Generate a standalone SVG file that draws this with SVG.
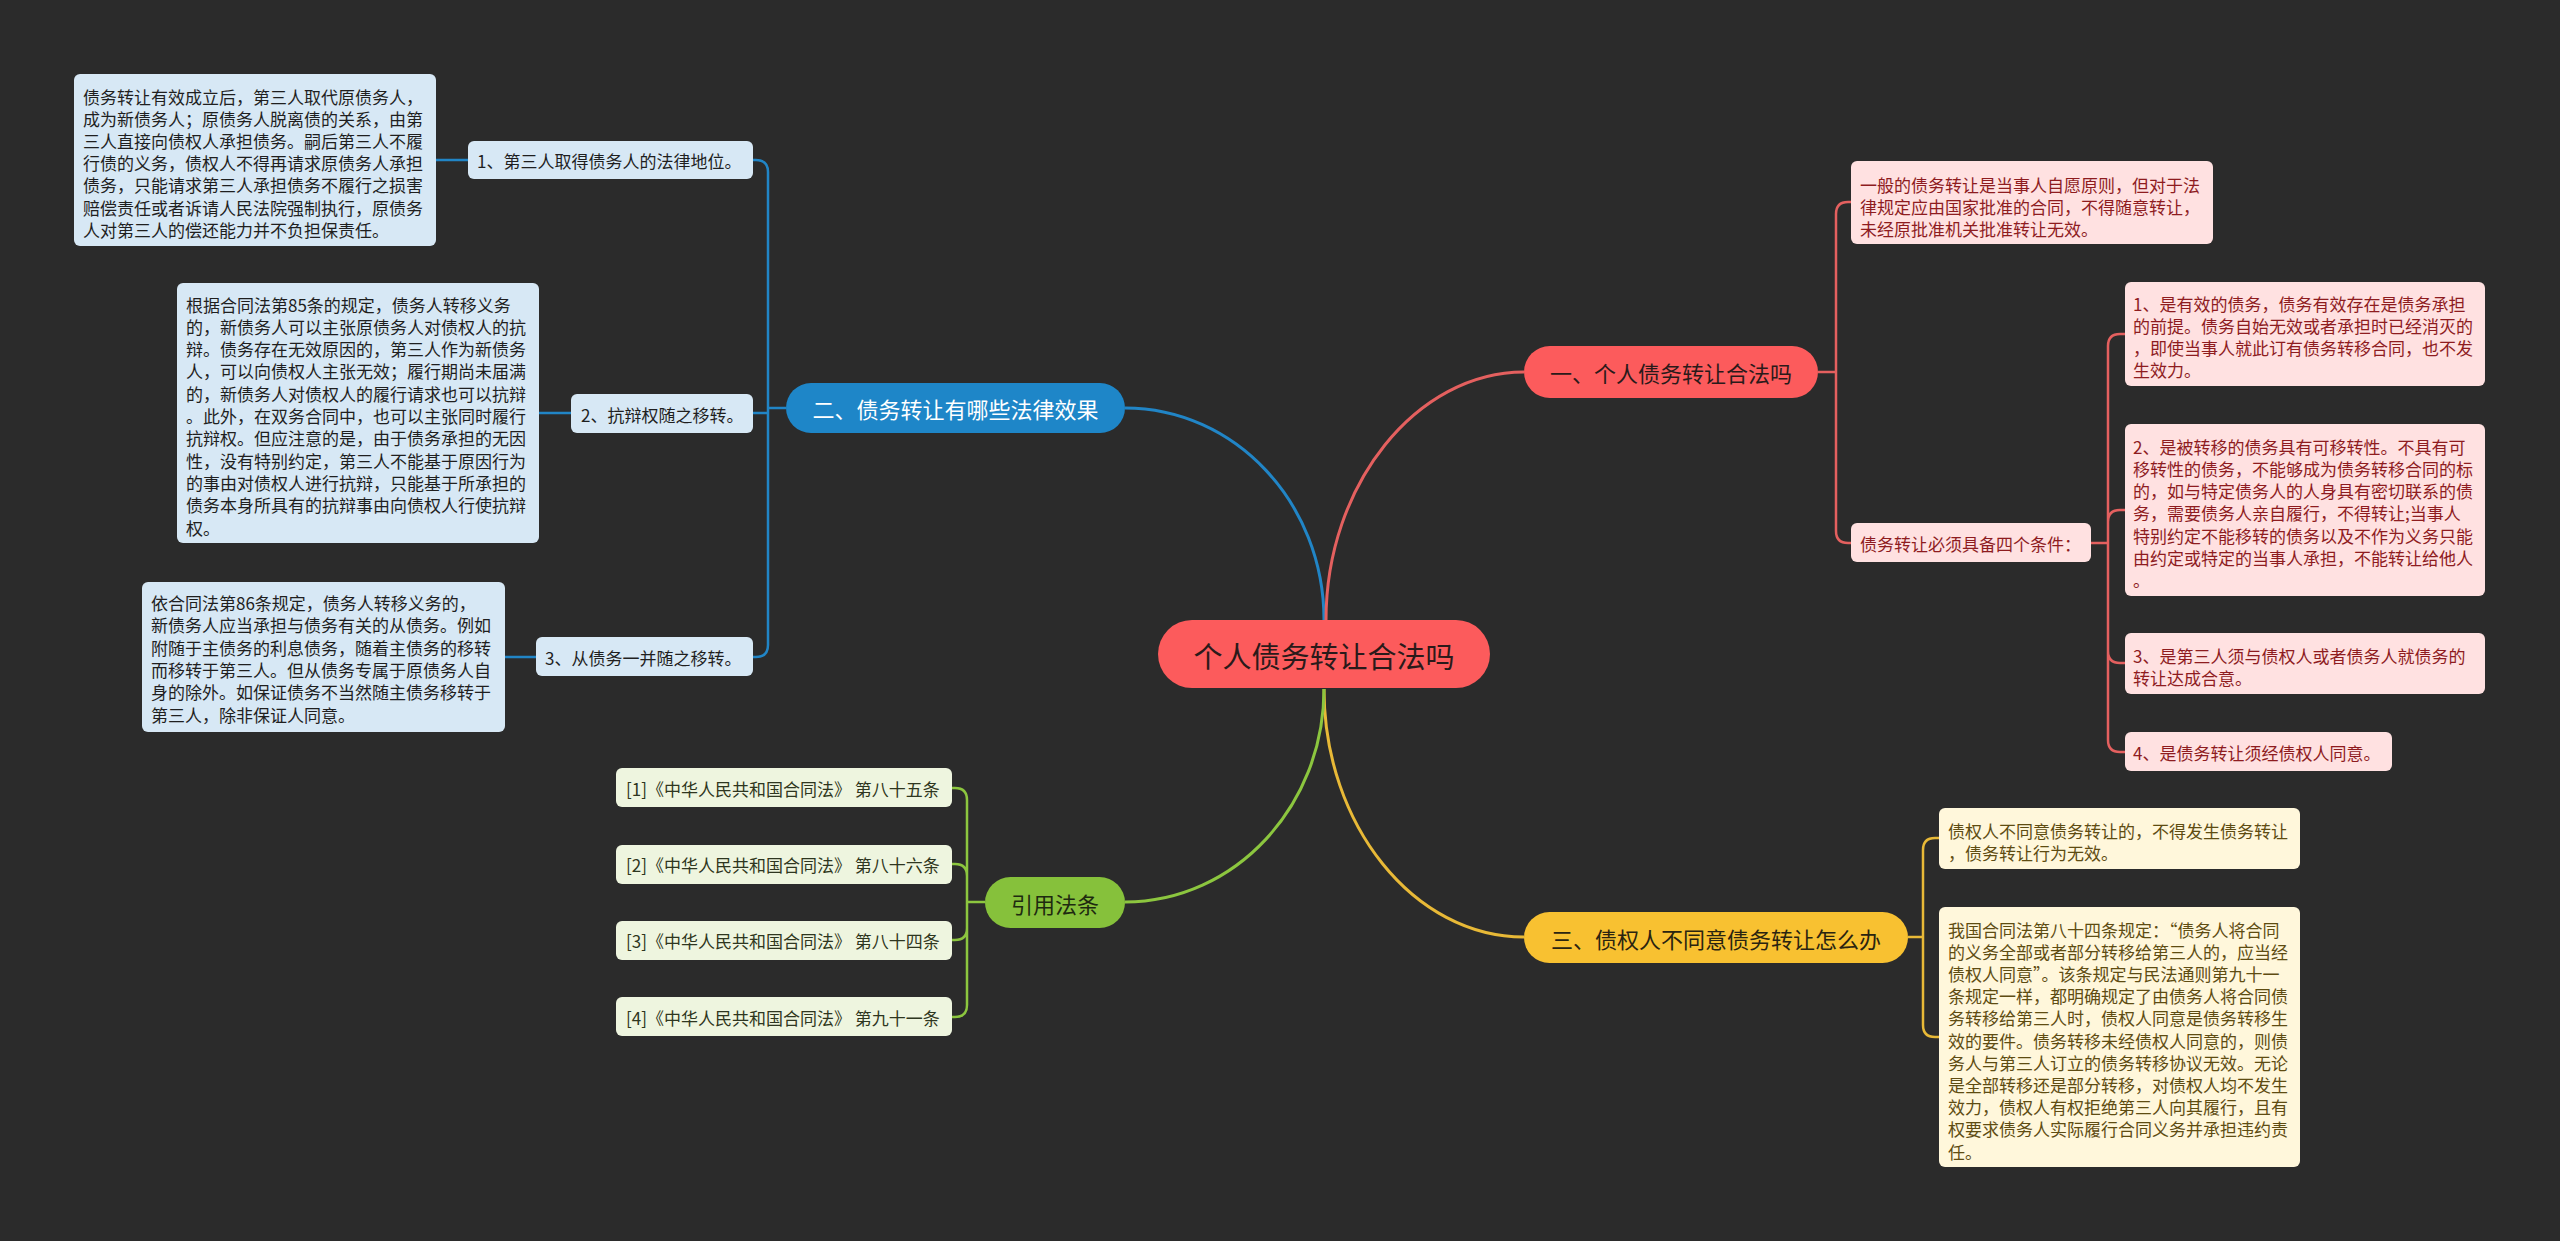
<svg xmlns="http://www.w3.org/2000/svg" width="2560" height="1241" viewBox="0 0 2560 1241">
<style>
text{font-family:"Noto Sans CJK SC","Noto Sans",sans-serif;dominant-baseline:central}
.t17{font-size:17px}
.t22{font-size:22px}
.t29{font-size:29px}
.bl{fill:#D7E8F5}
.rd{fill:#FFE1E1}
.yl{fill:#FFF7DB}
.gr{fill:#EEF5DF}
.tk{fill:#1f1f1f}
.tr{fill:#8E1C1F}
.ty{fill:#5E4C12}
.tg{fill:#2E3620}
.cb{fill:none;stroke:#2185C6;stroke-width:2.5}
.cr{fill:none;stroke:#E4605F;stroke-width:2.5}
.cy{fill:none;stroke:#E8B937;stroke-width:2.5}
.cg{fill:none;stroke:#8CC63F;stroke-width:2.5}
.main{stroke-width:3}
</style>
<rect x="0" y="0" width="2560" height="1241" fill="#2B2B2B"/>

<g id="connectors">
  <path class="cb main" d="M1324,620 C1324,503 1235,408 1125,408"/>
  <path class="cr main" d="M1326,620 C1326,484 1417,372 1524,372"/>
  <path class="cy main" d="M1324,689 C1324,825 1414,937 1524,937"/>
  <path class="cg main" d="M1324,689 C1324,806 1235,902 1125,902"/>
  <!-- blue -->
  <path class="cb" d="M786,408 H768 M768,408 V172 Q768,160 756,160 H753 M768,408 V413 H753 M768,408 V645 Q768,657 756,657 H753"/>
  <path class="cb" d="M436,160 H468 M539,413 H571 M505,657 H536"/>
  <!-- red -->
  <path class="cr" d="M1818,372 H1836 M1836,372 V214 Q1836,202 1848,202 H1851 M1836,372 V531 Q1836,543 1848,543 H1851"/>
  <path class="cr" d="M2091,543 H2108 M2108,543 V346 Q2108,334 2120,334 H2125 M2108,543 V522 Q2108,510 2120,510 H2125 M2108,543 V651 Q2108,663 2120,663 H2125 M2108,543 V740 Q2108,752 2120,752 H2125"/>
  <!-- yellow -->
  <path class="cy" d="M1908,937 H1923 M1923,937 V850 Q1923,838 1935,838 H1939 M1923,937 V1025 Q1923,1037 1935,1037 H1939"/>
  <!-- green -->
  <path class="cg" d="M985,902 H967 M967,902 V800 Q967,788 955,788 H952 M967,902 V876 Q967,864 955,864 H952 M967,902 V928 Q967,940 955,940 H952 M967,902 V1005 Q967,1017 955,1017 H952"/>
</g>

<g id="center">
  <rect x="1158" y="620" width="332" height="68" rx="34" fill="#FC5B5C"/>
  <text class="t29" x="1324" y="655" text-anchor="middle" fill="#2a1a1a">个人债务转让合法吗</text>
</g>

<g id="b1">
  <rect x="1524" y="346" width="294" height="52" rx="26" fill="#FC5B5C"/>
  <text class="t22" x="1671" y="372" text-anchor="middle" fill="#2a1a1a">一、个人债务转让合法吗</text>
</g>
<g id="b2">
  <rect x="786" y="383" width="339" height="50" rx="25" fill="#1E86C8"/>
  <text class="t22" x="955.5" y="408" text-anchor="middle" fill="#ffffff">二、债务转让有哪些法律效果</text>
</g>
<g id="b3">
  <rect x="1524" y="912" width="384" height="51" rx="25.5" fill="#F8C131"/>
  <text class="t22" x="1716" y="937.5" text-anchor="middle" fill="#2a2410">三、债权人不同意债务转让怎么办</text>
</g>
<g id="b4">
  <rect x="985" y="877" width="140" height="51" rx="25.5" fill="#86C13B"/>
  <text class="t22" x="1055" y="902.5" text-anchor="middle" fill="#1e2a10">引用法条</text>
</g>

<!-- blue children -->
<g id="n2-1">
  <rect class="bl" x="468" y="141" width="285" height="38" rx="6"/>
  <text class="t17 tk" x="477" y="160">1、第三人取得债务人的法律地位。</text>
</g>
<g id="n2-1-leaf">
  <rect class="bl" x="74" y="74" width="362" height="172" rx="6"/>
  <text class="t17 tk" x="83">
    <tspan x="83" y="95.5">债务转让有效成立后，第三人取代原债务人，</tspan>
    <tspan x="83" y="117.7">成为新债务人；原债务人脱离债的关系，由第</tspan>
    <tspan x="83" y="139.9">三人直接向债权人承担债务。嗣后第三人不履</tspan>
    <tspan x="83" y="162.1">行债的义务，债权人不得再请求原债务人承担</tspan>
    <tspan x="83" y="184.3">债务，只能请求第三人承担债务不履行之损害</tspan>
    <tspan x="83" y="206.5">赔偿责任或者诉请人民法院强制执行，原债务</tspan>
    <tspan x="83" y="228.7">人对第三人的偿还能力并不负担保责任。</tspan>
  </text>
</g>
<g id="n2-2">
  <rect class="bl" x="571" y="394" width="182" height="39" rx="6"/>
  <text class="t17 tk" x="581" y="414">2、抗辩权随之移转。</text>
</g>
<g id="n2-2-leaf">
  <rect class="bl" x="177" y="283" width="362" height="260" rx="6"/>
  <text class="t17 tk">
    <tspan x="186" y="303.5">根据合同法第85条的规定，债务人转移义务</tspan>
    <tspan x="186" y="325.8">的，新债务人可以主张原债务人对债权人的抗</tspan>
    <tspan x="186" y="348.1">辩。债务存在无效原因的，第三人作为新债务</tspan>
    <tspan x="186" y="370.4">人，可以向债权人主张无效；履行期尚未届满</tspan>
    <tspan x="186" y="392.7">的，新债务人对债权人的履行请求也可以抗辩</tspan>
    <tspan x="186" y="415">。此外，在双务合同中，也可以主张同时履行</tspan>
    <tspan x="186" y="437.3">抗辩权。但应注意的是，由于债务承担的无因</tspan>
    <tspan x="186" y="459.6">性，没有特别约定，第三人不能基于原因行为</tspan>
    <tspan x="186" y="481.9">的事由对债权人进行抗辩，只能基于所承担的</tspan>
    <tspan x="186" y="504.2">债务本身所具有的抗辩事由向债权人行使抗辩</tspan>
    <tspan x="186" y="526.5">权。</tspan>
  </text>
</g>
<g id="n2-3">
  <rect class="bl" x="536" y="637" width="217" height="39" rx="6"/>
  <text class="t17 tk" x="545" y="657">3、从债务一并随之移转。</text>
</g>
<g id="n2-3-leaf">
  <rect class="bl" x="142" y="582" width="363" height="150" rx="6"/>
  <text class="t17 tk">
    <tspan x="151" y="602">依合同法第86条规定，债务人转移义务的，</tspan>
    <tspan x="151" y="624.3">新债务人应当承担与债务有关的从债务。例如</tspan>
    <tspan x="151" y="646.6">附随于主债务的利息债务，随着主债务的移转</tspan>
    <tspan x="151" y="668.9">而移转于第三人。但从债务专属于原债务人自</tspan>
    <tspan x="151" y="691.2">身的除外。如保证债务不当然随主债务移转于</tspan>
    <tspan x="151" y="713.5">第三人，除非保证人同意。</tspan>
  </text>
</g>

<!-- red children -->
<g id="n1-1">
  <rect class="rd" x="1851" y="161" width="362" height="83" rx="6"/>
  <text class="t17 tr">
    <tspan x="1860" y="183.5">一般的债务转让是当事人自愿原则，但对于法</tspan>
    <tspan x="1860" y="205.7">律规定应由国家批准的合同，不得随意转让，</tspan>
    <tspan x="1860" y="227.9">未经原批准机关批准转让无效。</tspan>
  </text>
</g>
<g id="n1-2">
  <rect class="rd" x="1851" y="523" width="240" height="39" rx="6"/>
  <text class="t17 tr" x="1860" y="543">债务转让必须具备四个条件：</text>
</g>
<g id="n1-2-1">
  <rect class="rd" x="2125" y="282" width="360" height="104" rx="6"/>
  <text class="t17 tr">
    <tspan x="2133" y="302.5">1、是有效的债务，债务有效存在是债务承担</tspan>
    <tspan x="2133" y="324.8">的前提。债务自始无效或者承担时已经消灭的</tspan>
    <tspan x="2133" y="347.1">，即使当事人就此订有债务转移合同，也不发</tspan>
    <tspan x="2133" y="369.4">生效力。</tspan>
  </text>
</g>
<g id="n1-2-2">
  <rect class="rd" x="2125" y="424" width="360" height="172" rx="6"/>
  <text class="t17 tr">
    <tspan x="2133" y="445.5">2、是被转移的债务具有可移转性。不具有可</tspan>
    <tspan x="2133" y="467.8">移转性的债务，不能够成为债务转移合同的标</tspan>
    <tspan x="2133" y="490.1">的，如与特定债务人的人身具有密切联系的债</tspan>
    <tspan x="2133" y="512.4">务，需要债务人亲自履行，不得转让;当事人</tspan>
    <tspan x="2133" y="534.7">特别约定不能移转的债务以及不作为义务只能</tspan>
    <tspan x="2133" y="557">由约定或特定的当事人承担，不能转让给他人</tspan>
    <tspan x="2133" y="579.3">。</tspan>
  </text>
</g>
<g id="n1-2-3">
  <rect class="rd" x="2125" y="633" width="360" height="61" rx="6"/>
  <text class="t17 tr">
    <tspan x="2133" y="655">3、是第三人须与债权人或者债务人就债务的</tspan>
    <tspan x="2133" y="677.3">转让达成合意。</tspan>
  </text>
</g>
<g id="n1-2-4">
  <rect class="rd" x="2125" y="732" width="267" height="39" rx="6"/>
  <text class="t17 tr" x="2133" y="752">4、是债务转让须经债权人同意。</text>
</g>

<!-- yellow children -->
<g id="n3-1">
  <rect class="yl" x="1939" y="808" width="361" height="61" rx="6"/>
  <text class="t17 ty">
    <tspan x="1948" y="830">债权人不同意债务转让的，不得发生债务转让</tspan>
    <tspan x="1948" y="852.3">，债务转让行为无效。</tspan>
  </text>
</g>
<g id="n3-2">
  <rect class="yl" x="1939" y="907" width="361" height="260" rx="6"/>
  <text class="t17 ty">
    <tspan x="1948" y="928.5">我国合同法第八十四条规定：“债务人将合同</tspan>
    <tspan x="1948" y="950.7">的义务全部或者部分转移给第三人的，应当经</tspan>
    <tspan x="1948" y="972.9">债权人同意”。该条规定与民法通则第九十一</tspan>
    <tspan x="1948" y="995.1">条规定一样，都明确规定了由债务人将合同债</tspan>
    <tspan x="1948" y="1017.3">务转移给第三人时，债权人同意是债务转移生</tspan>
    <tspan x="1948" y="1039.5">效的要件。债务转移未经债权人同意的，则债</tspan>
    <tspan x="1948" y="1061.7">务人与第三人订立的债务转移协议无效。无论</tspan>
    <tspan x="1948" y="1083.9">是全部转移还是部分转移，对债权人均不发生</tspan>
    <tspan x="1948" y="1106.1">效力，债权人有权拒绝第三人向其履行，且有</tspan>
    <tspan x="1948" y="1128.3">权要求债务人实际履行合同义务并承担违约责</tspan>
    <tspan x="1948" y="1150.5">任。</tspan>
  </text>
</g>

<!-- green children -->
<g id="n4-1">
  <rect class="gr" x="616" y="768" width="336" height="39" rx="6"/>
  <text class="t17 tg" x="626" y="788">[1]《中华人民共和国合同法》 第八十五条</text>
</g>
<g id="n4-2">
  <rect class="gr" x="616" y="845" width="336" height="39" rx="6"/>
  <text class="t17 tg" x="626" y="864.5">[2]《中华人民共和国合同法》 第八十六条</text>
</g>
<g id="n4-3">
  <rect class="gr" x="616" y="921" width="336" height="39" rx="6"/>
  <text class="t17 tg" x="626" y="940.5">[3]《中华人民共和国合同法》 第八十四条</text>
</g>
<g id="n4-4">
  <rect class="gr" x="616" y="997" width="336" height="39" rx="6"/>
  <text class="t17 tg" x="626" y="1017">[4]《中华人民共和国合同法》 第九十一条</text>
</g>
</svg>
